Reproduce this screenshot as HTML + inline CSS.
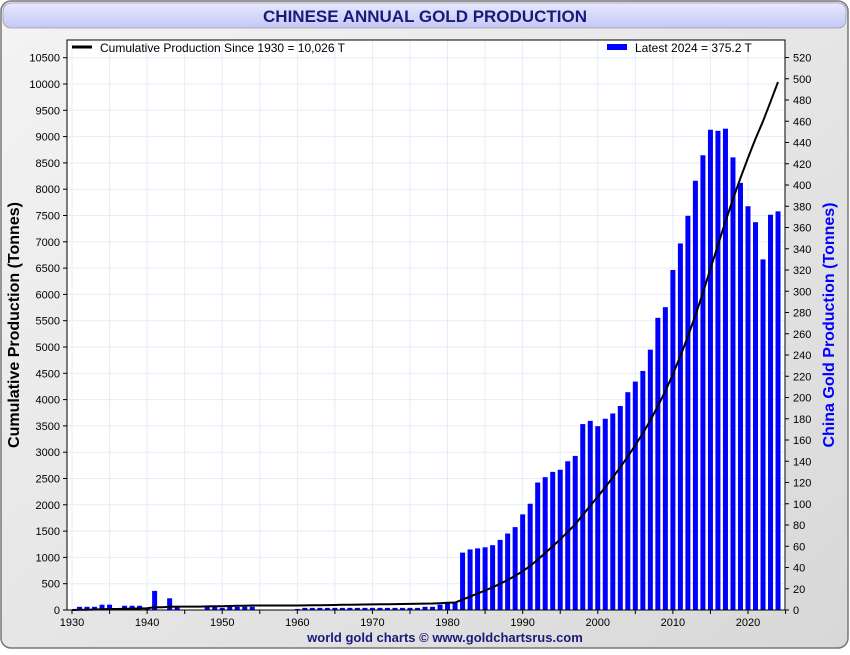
<!DOCTYPE html>
<html><head><meta charset="utf-8"><style>
body{margin:0;width:850px;height:650px;overflow:hidden;background:#fff;font-family:"Liberation Sans",sans-serif}
</style></head><body>
<svg id="chart" width="850" height="650" xmlns="http://www.w3.org/2000/svg" font-family="Liberation Sans, sans-serif">
<defs><linearGradient id="bg" x1="0" y1="0" x2="1" y2="1"><stop offset="0" stop-color="#f4f4f4"/><stop offset="1" stop-color="#d8d8d8"/></linearGradient>
<linearGradient id="tb" x1="0" y1="0" x2="0" y2="1"><stop offset="0" stop-color="#e8e8ff"/><stop offset="1" stop-color="#c4c8f4"/></linearGradient></defs>
<rect x="1" y="1" width="847" height="647" rx="10" fill="url(#bg)" stroke="#777" stroke-width="1.5"/>
<rect x="3" y="3" width="843" height="25" rx="8" fill="url(#tb)" stroke="#99a" stroke-width="0.8"/>
<text x="425" y="22" text-anchor="middle" font-size="17" font-weight="bold" fill="#1a1a7a">CHINESE ANNUAL GOLD PRODUCTION</text>
<rect x="67" y="40" width="718" height="570" fill="#fff"/>
<g id="grid"></g><g id="bars"></g><g id="line"></g><g id="axes"></g>
<rect x="67" y="40" width="718" height="570" fill="none" stroke="#000" stroke-width="1"/>
<line x1="72" y1="47" x2="92" y2="47" stroke="#000" stroke-width="3"/>
<text x="100" y="52" font-size="12">Cumulative Production Since 1930 = 10,026 T</text>
<rect x="607" y="44" width="20" height="6" fill="#0000ff"/>
<text x="635" y="52" font-size="12">Latest 2024 = 375.2 T</text>
<text transform="translate(19,325) rotate(-90)" text-anchor="middle" font-size="16" font-weight="bold">Cumulative Production (Tonnes)</text>
<text transform="translate(834,325) rotate(-90)" text-anchor="middle" font-size="16" font-weight="bold" fill="#0000ff">China Gold Production (Tonnes)</text>
<text x="445" y="642" text-anchor="middle" font-size="13" font-weight="bold" fill="#1a1a7a">world gold charts © www.goldchartsrus.com</text>
</svg>
<script>
const years=[];for(let y=1930;y<=2024;y++)years.push(y);
const annualEarly=[0,3,3,3,5,5,0,4,4,4,2,18,0,11,3,0,0,0,3,3,2,3,3,3,3,0,0,0,0,0,1,2,2,2,2,2,2,2,2,2,2,2,2,2,2,2,2,3,3,5,7,7];
const annualModern=[54,57,58,59,61,66,72,78,90,100,120,125,130,132,140,145,175,178,173,180,185,192,205,215,225,245,275,285,320,345,371,404,428,452,451,453,426,402,380,365,330,372,375.2];
const leftTicks=[0,500,1000,1500,2000,2500,3000,3500,4000,4500,5000,5500,6000,6500,7000,7500,8000,8500,9000,9500,10000,10500];
const rightTicks=[0,20,40,60,80,100,120,140,160,180,200,220,240,260,280,300,320,340,360,380,400,420,440,460,480,500,520];
const xTicks=[1930,1940,1950,1960,1970,1980,1990,2000,2010,2020];
const annual=annualEarly.concat(annualModern);
const NS="http://www.w3.org/2000/svg";
const X0=67,X1=785,Y0=610,Y1=40;
const xs=y=>72+(y-1930)*7.511;
const yR=v=>Y0-v*1.0625;
const yL=v=>Y0-v*0.0526;
function mk(tag,attrs,parent){const e=document.createElementNS(NS,tag);for(const k in attrs)e.setAttribute(k,attrs[k]);document.getElementById(parent).appendChild(e);return e;}
// grid
for(let y=1930;y<=2025;y+=5){const g=mk('line',{x1:xs(y),x2:xs(y),y1:Y1,y2:Y0,stroke:'#e3eef8','stroke-width':1},'grid');

}
leftTicks.forEach(t=>{const g=mk('line',{x1:X0,x2:X1,y1:yL(t),y2:yL(t),stroke:'#e3eef8','stroke-width':1},'grid');

});
// bars
years.forEach((y,i)=>{const v=annual[i];if(!v)return;const b=mk('rect',{x:xs(y)-2.5,y:yR(v),width:5,height:Y0-yR(v),fill:'#0000ff'},'bars');

});
// cumulative line
let c=0;const pts=years.map((y,i)=>{c+=annual[i];return xs(y).toFixed(1)+','+yL(c).toFixed(1);});
const pl=mk('polyline',{points:pts.join(' '),fill:'none',stroke:'#000','stroke-width':2},'line');


// axes
leftTicks.forEach(t=>{mk('line',{x1:X0-4,x2:X0,y1:yL(t),y2:yL(t),stroke:'#000'},'axes');
const tx=mk('text',{x:X0-7,y:yL(t)+4,'text-anchor':'end','font-size':11},'axes');tx.textContent=t;

});
rightTicks.forEach(t=>{mk('line',{x1:X1,x2:X1+4,y1:yR(t),y2:yR(t),stroke:'#000'},'axes');
const tx=mk('text',{x:X1+8,y:yR(t)+4,'font-size':11},'axes');tx.textContent=t;

});
for(let y=1930;y<=2025;y+=5){mk('line',{x1:xs(y),x2:xs(y),y1:Y0,y2:Y0+4,stroke:'#000'},'axes');}
xTicks.forEach(t=>{const tx=mk('text',{x:xs(t),y:Y0+16,'text-anchor':'middle','font-size':11},'axes');tx.textContent=t;

});
</script>
</body></html>
